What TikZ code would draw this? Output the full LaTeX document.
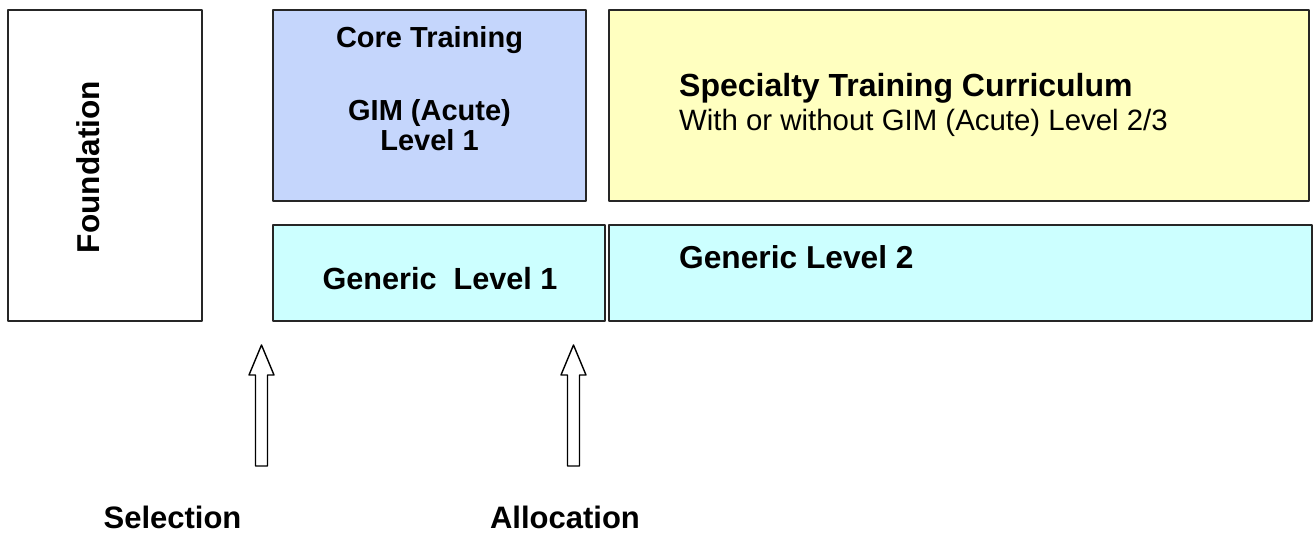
\documentclass[tikz,border=0pt]{standalone}
\usepackage{fontspec}
\setmainfont{Liberation Sans}
\usepackage{tikz}
\usetikzlibrary{positioning}

\definecolor{coreblue}{RGB}{197,214,252}
\definecolor{specyellow}{RGB}{255,255,192}
\definecolor{genericcyan}{RGB}{204,255,255}

\tikzset{
  box/.style={draw=black!85, line width=1.4pt, inner sep=0pt, outer sep=0pt, anchor=north west},
  lbl/.style={inner sep=0pt, font=\bfseries\fontsize{31}{33}\selectfont},
  blockarrow/.style={draw=black, line width=1.4pt, fill=white}
}

\begin{document}
\begin{tikzpicture}[line cap=round,line join=round,x=1pt,y=-1pt]
\useasboundingbox (0,0) rectangle (1315,533);
% boxes
\node[box, minimum width=194, minimum height=311] (found) at (8,10) {};
\node[box, fill=coreblue, minimum width=313, minimum height=191] (core) at (273,10) {};
\node[box, fill=specyellow, minimum width=700, minimum height=191] (spec) at (609,10) {};
\node[box, fill=genericcyan, minimum width=332, minimum height=96] (genone) at (273,225) {};
\node[box, fill=genericcyan, minimum width=703, minimum height=96] (gentwo) at (609,225) {};
% texts
\node[lbl, rotate=90, font=\bfseries\fontsize{31.6}{34}\selectfont] (foundtxt) at (88,167) {Foundation};
\node[lbl, anchor=base, font=\bfseries\fontsize{29}{31}\selectfont] (coretxt) at (429.5,47) {Core Training};
\node[lbl, anchor=base, font=\bfseries\fontsize{29}{31}\selectfont] (gimtxt) at (429.5,120) {GIM (Acute)};
\node[lbl, anchor=base, font=\bfseries\fontsize{29}{31}\selectfont] (levtxt) at (429.5,150) {Level 1};
\node[lbl, anchor=base west, font=\bfseries\fontsize{32}{34}\selectfont] (spectxt) at (679,96) {Specialty Training Curriculum};
\node[lbl, anchor=base west, font=\fontsize{29.4}{32}\selectfont] (specsub) at (679,130) {With or without GIM (Acute) Level 2/3};
\node[lbl, anchor=base, font=\bfseries\fontsize{30.6}{33}\selectfont] (genonetxt) at (440,289) {Generic\ \ Level 1};
\node[lbl, anchor=base west, font=\bfseries\fontsize{31.7}{34}\selectfont] (gentwotxt) at (679,268) {Generic Level 2};
\node[lbl, anchor=base] (seltxt) at (172.5,528) {Selection};
\node[lbl, anchor=base] (alloctxt) at (565,528) {Allocation};
% block arrows
\coordinate (seltip) at (261.5,345);
\coordinate (alloctip) at (573.5,345);
\draw[blockarrow] (seltip) -- ++(12.5,30) -- ++(-6.5,0) -- ++(0,91) -- ++(-12,0) -- ++(0,-91) -- ++(-6.5,0) -- cycle;
\draw[blockarrow] (alloctip) -- ++(12.5,30) -- ++(-6.5,0) -- ++(0,91) -- ++(-12,0) -- ++(0,-91) -- ++(-6.5,0) -- cycle;
\end{tikzpicture}
\end{document}
